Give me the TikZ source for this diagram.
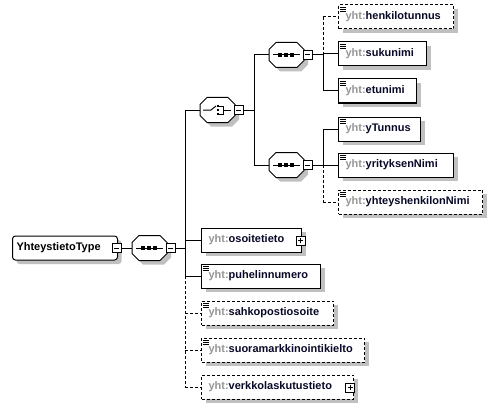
\documentclass[tikz,border=0pt]{standalone}
\usepackage{fontspec}
\setmainfont{Liberation Sans}
\usetikzlibrary{shadows}
\definecolor{shadowgray}{RGB}{192,192,192}
\definecolor{yhtgray}{RGB}{150,150,150}
\definecolor{namecol}{RGB}{8,8,40}
\newcommand{\yh}[1]{{\color{yhtgray}yht:}#1}
\newcommand{\octpath}[1]{([xshift=7pt]#1.north west) -- ([xshift=-7pt]#1.north east) -- ([yshift=-7pt]#1.north east) -- ([yshift=7pt]#1.south east) -- ([xshift=-7pt]#1.south east) -- ([xshift=7pt]#1.south west) -- ([yshift=7pt]#1.south west) -- ([yshift=-7pt]#1.north west) -- cycle}
\newcommand{\mkoct}[3]{%
  \node[minimum width=34pt, minimum height=24pt, inner sep=0pt, anchor=west] (#1) at (#2,#3) {};
  \fill[shadowgray, transform canvas={shift={(4pt,-4pt)}}] \octpath{#1};
  \draw[fill=white] \octpath{#1};}
\newcommand{\seqicon}[1]{%
  \draw ([xshift=4pt]#1.west) -- ([xshift=-4pt]#1.east);
  \foreach \dx in {11,17,23}{\fill ([xshift=\dx pt-1.75pt,yshift=-1.75pt]#1.west) rectangle ++(3.5pt,3.5pt);}}
\tikzset{
  elbox/.style={draw, fill=white, minimum height=24pt, inner xsep=7pt, inner ysep=0pt,
    text width=#1, align=left, anchor=west, text=namecol,
    font=\bfseries\fontsize{11}{13}\selectfont,
    drop shadow={shadow xshift=4pt, shadow yshift=-4pt, fill=shadowgray, opacity=1}},
  opt/.style={dash pattern=on 3pt off 2pt},
  pm/.style={draw, fill=white, minimum size=9pt, inner sep=0pt},
  minusbox/.style={pm, path picture={\draw ([xshift=2pt]path picture bounding box.west) -- ([xshift=-2pt]path picture bounding box.east);}},
  plusbox/.style={pm, path picture={\draw ([xshift=2pt]path picture bounding box.west) -- ([xshift=-2pt]path picture bounding box.east);
      \draw ([yshift=2pt]path picture bounding box.south) -- ([yshift=-2pt]path picture bounding box.north);}},
}
\begin{document}
\begin{tikzpicture}[x=1pt, y=-1pt, line width=1pt]
\useasboundingbox (0,0) rectangle (497,409);
% root
\node[elbox=97pt, inner xsep=4pt, rounded corners=3pt, text=black] (root) at (12,248) {YhteystietoType};
\node[minusbox] (rootm) at (116.5,248) {};
% main sequence
\mkoct{seq0}{132}{248}
\seqicon{seq0}
\node[minusbox] (seq0m) at (170.5,248) {};
\draw (rootm.east) -- (seq0.west);
\coordinate (T0) at (185,248);
\draw (seq0m.east) -- (T0);
% choice
\mkoct{ch}{200}{110}
\draw ([xshift=3pt]ch.west) -- ([xshift=11pt]ch.west) -- ([xshift=16pt,yshift=4pt]ch.west);
\foreach \dy in {-4,0,4}{\fill ([xshift=16.5pt,yshift=\dy pt-1.25pt]ch.west) rectangle ++(2.5pt,2.5pt);}
\draw ([xshift=19pt,yshift=4pt]ch.west) -- ([xshift=23pt,yshift=4pt]ch.west) -- ([xshift=23pt,yshift=-4pt]ch.west) -- ([xshift=19pt,yshift=-4pt]ch.west);
\draw ([xshift=23pt]ch.west) -- ([xshift=31pt]ch.west);
\node[minusbox] (chm) at (238.5,110) {};
\coordinate (T1) at (254,110);
\draw (chm.east) -- (T1);
% top sequence
\mkoct{sa}{269}{55}
\seqicon{sa}
\node[minusbox] (sam) at (307.5,55) {};
\coordinate (T2) at (323,55);
\draw (sam.east) -- (T2);
% bottom sequence
\mkoct{sb}{269}{165}
\seqicon{sb}
\node[minusbox] (sbm) at (307.5,165) {};
\coordinate (T3) at (323,165);
\draw (sbm.east) -- (T3);
% elements of top sequence
\node[elbox=101pt, opt] (hen) at (338,17) {\yh{henkilotunnus}};
\node[elbox=74pt] (suk) at (338,54) {\yh{sukunimi}};
\node[elbox=64pt] (etu) at (338,91) {\yh{etunimi}};
% elements of bottom sequence
\node[elbox=68pt] (ytu) at (338,129) {\yh{yTunnus}};
\node[elbox=101pt] (yri) at (338,165) {\yh{yrityksenNimi}};
\node[elbox=130pt, opt] (yhh) at (338,202) {\yh{yhteyshenkilonNimi}};
% elements of main sequence
\node[elbox=86pt] (oso) at (201,240) {\yh{osoitetieto}};
\node[plusbox] (osop) at (300.5,240.5) {};
\node[elbox=105pt] (puh) at (201,276) {\yh{puhelinnumero}};
\node[elbox=118pt, opt] (sah) at (201,313) {\yh{sahkopostiosoite}};
\node[elbox=149pt, opt] (suo) at (201,350) {\yh{suoramarkkinointikielto}};
\node[elbox=138pt, opt] (ver) at (201,387) {\yh{verkkolaskutustieto}};
\node[plusbox] (verp) at (350,387.5) {};
% simple-type marks
\foreach \n in {hen,suk,etu,ytu,yri,yhh,puh,sah,suo}{
  \foreach \k in {3,5,7}{\draw[line width=0.8pt] ([xshift=2pt,yshift=-\k pt]\n.north west) -- ++(6pt,0pt);}}
% trunk connectors
\draw (T0 |- ch.west) -- (T0 |- puh.west);
\draw[opt] (T0 |- puh.west) -- (T0 |- ver.west);
\draw (T0 |- ch.west) -- (ch.west);
\draw (T0 |- oso.west) -- (oso.west);
\draw (T0 |- puh.west) -- (puh.west);
\draw[opt] (T0 |- sah.west) -- (sah.west);
\draw[opt] (T0 |- suo.west) -- (suo.west);
\draw[opt] (T0 |- ver.west) -- (ver.west);
% choice connectors
\draw (T1 |- sa.west) -- (T1 |- sb.west);
\draw (T1 |- sa.west) -- (sa.west);
\draw (T1 |- sb.west) -- (sb.west);
% top sequence connectors
\draw[opt] (T2 |- hen.west) -- (T2);
\draw (T2) -- (T2 |- etu.west);
\draw[opt] (T2 |- hen.west) -- (hen.west);
\draw (T2 |- suk.west) -- (suk.west);
\draw (T2 |- etu.west) -- (etu.west);
% bottom sequence connectors
\draw (T3 |- ytu.west) -- (T3);
\draw[opt] (T3) -- (T3 |- yhh.west);
\draw (T3 |- ytu.west) -- (ytu.west);
\draw (T3 |- yri.west) -- (yri.west);
\draw[opt] (T3 |- yhh.west) -- (yhh.west);
\end{tikzpicture}
\end{document}
